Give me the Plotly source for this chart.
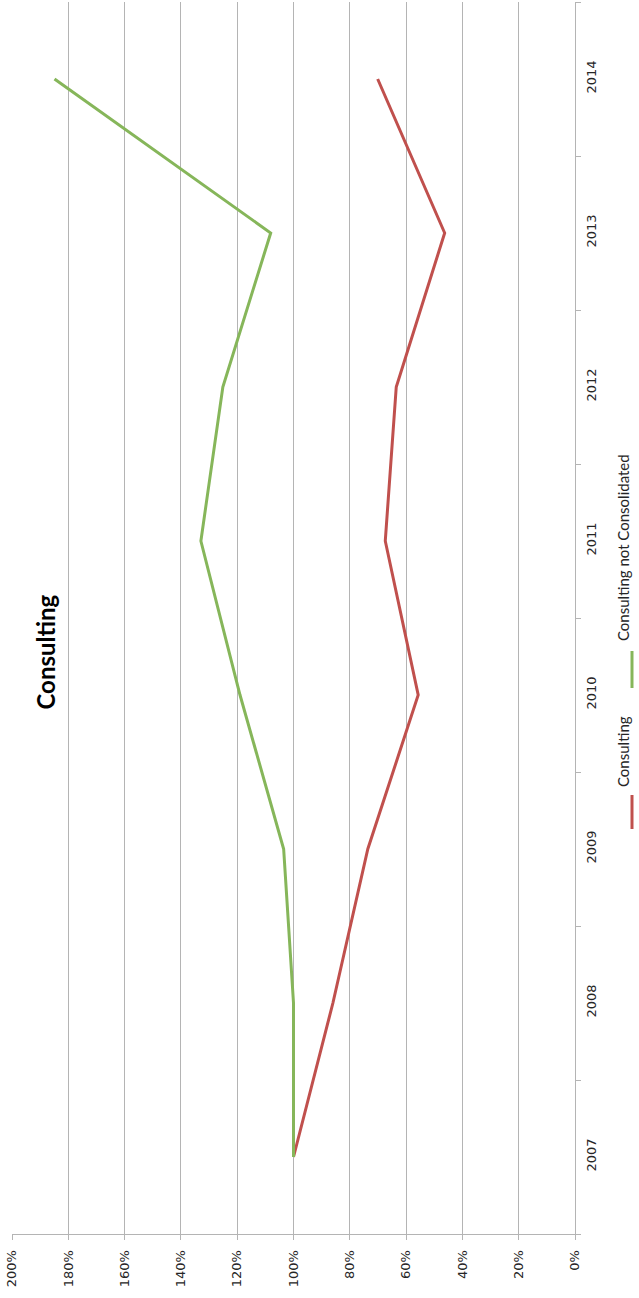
import plotly.graph_objects as go

# Index values (share of 2007 level, in %)
years = ["2007", "2008", "2009", "2010", "2011", "2012", "2013", "2014"]
consulting = [100, 86, 73.6, 55.7, 67.4, 63.5, 46.3, 70.1]
consulting_not_consolidated = [100, 100, 103.5, 119, 132.9, 125.1, 108.1, 184.9]
pct_ticks = [0, 20, 40, 60, 80, 100, 120, 140, 160, 180, 200]
pct_labels = [f"{v}%" for v in pct_ticks]

RED = "#C0504D"
GREEN = "#86B65A"
GRID = "#B4B4B4"
TEXT = "#262626"

W, H = 639, 1298
ML, MR, MT, MB = 12, 64, 2, 64


def px_x(p):
    return (p - ML) / (W - ML - MR)


def px_y(p):
    return 1 - (p - MT) / (H - MT - MB)


fig = go.Figure()
fig.add_trace(go.Scatter(
    x=consulting, y=years, mode="lines", name="Consulting",
    line=dict(color=RED, width=3), showlegend=False))
fig.add_trace(go.Scatter(
    x=consulting_not_consolidated, y=years, mode="lines",
    name="Consulting not Consolidated",
    line=dict(color=GREEN, width=3), showlegend=False))

# Title, written vertically
fig.add_annotation(
    text="<b>Consulting</b>", x=px_x(28), y=px_y(652), xref="paper", yref="paper",
    showarrow=False, textangle=-90, font=dict(family="Lato", size=24, color="#000000"))

# Vertical legend on the right side
legend_items = [
    ("Consulting", RED, 795, 829, 752),
    ("Consulting not Consolidated", GREEN, 651, 688, 548),
]
for label, color, y0, y1, ytext in legend_items:
    fig.add_shape(type="line", xref="paper", yref="paper",
                  x0=px_x(632), x1=px_x(632), y0=px_y(y0), y1=px_y(y1),
                  line=dict(color=color, width=3))
    fig.add_annotation(text=label, x=px_x(634), y=px_y(ytext), xref="paper", yref="paper",
                       showarrow=False, textangle=-90,
                       font=dict(family="Lato", size=15, color=TEXT))

fig.update_xaxes(
    range=[200, 0], tickmode="array", tickvals=pct_ticks, ticktext=pct_labels,
    tickangle=-90, ticklabelstandoff=5,
    showgrid=True, gridcolor=GRID, gridwidth=1, zeroline=False,
    showline=True, linecolor=GRID, linewidth=1,
    ticks="outside", ticklen=5, tickcolor=GRID,
    tickfont=dict(family="DejaVu Sans", size=13, color=TEXT))
fig.update_yaxes(
    type="category", categoryorder="array", categoryarray=years,
    range=[-0.5, 7.5], side="right", tickangle=-90, ticklabelstandoff=4,
    showgrid=False, zeroline=False, showline=True, linecolor=GRID, linewidth=1,
    ticks="outside", tickson="boundaries", ticklen=5, tickcolor=GRID,
    tickfont=dict(family="DejaVu Sans", size=13, color=TEXT))

fig.update_layout(
    width=W, height=H, margin=dict(l=ML, r=MR, t=MT, b=MB),
    paper_bgcolor="white", plot_bgcolor="white", showlegend=False)

fig.write_html("out.html")
